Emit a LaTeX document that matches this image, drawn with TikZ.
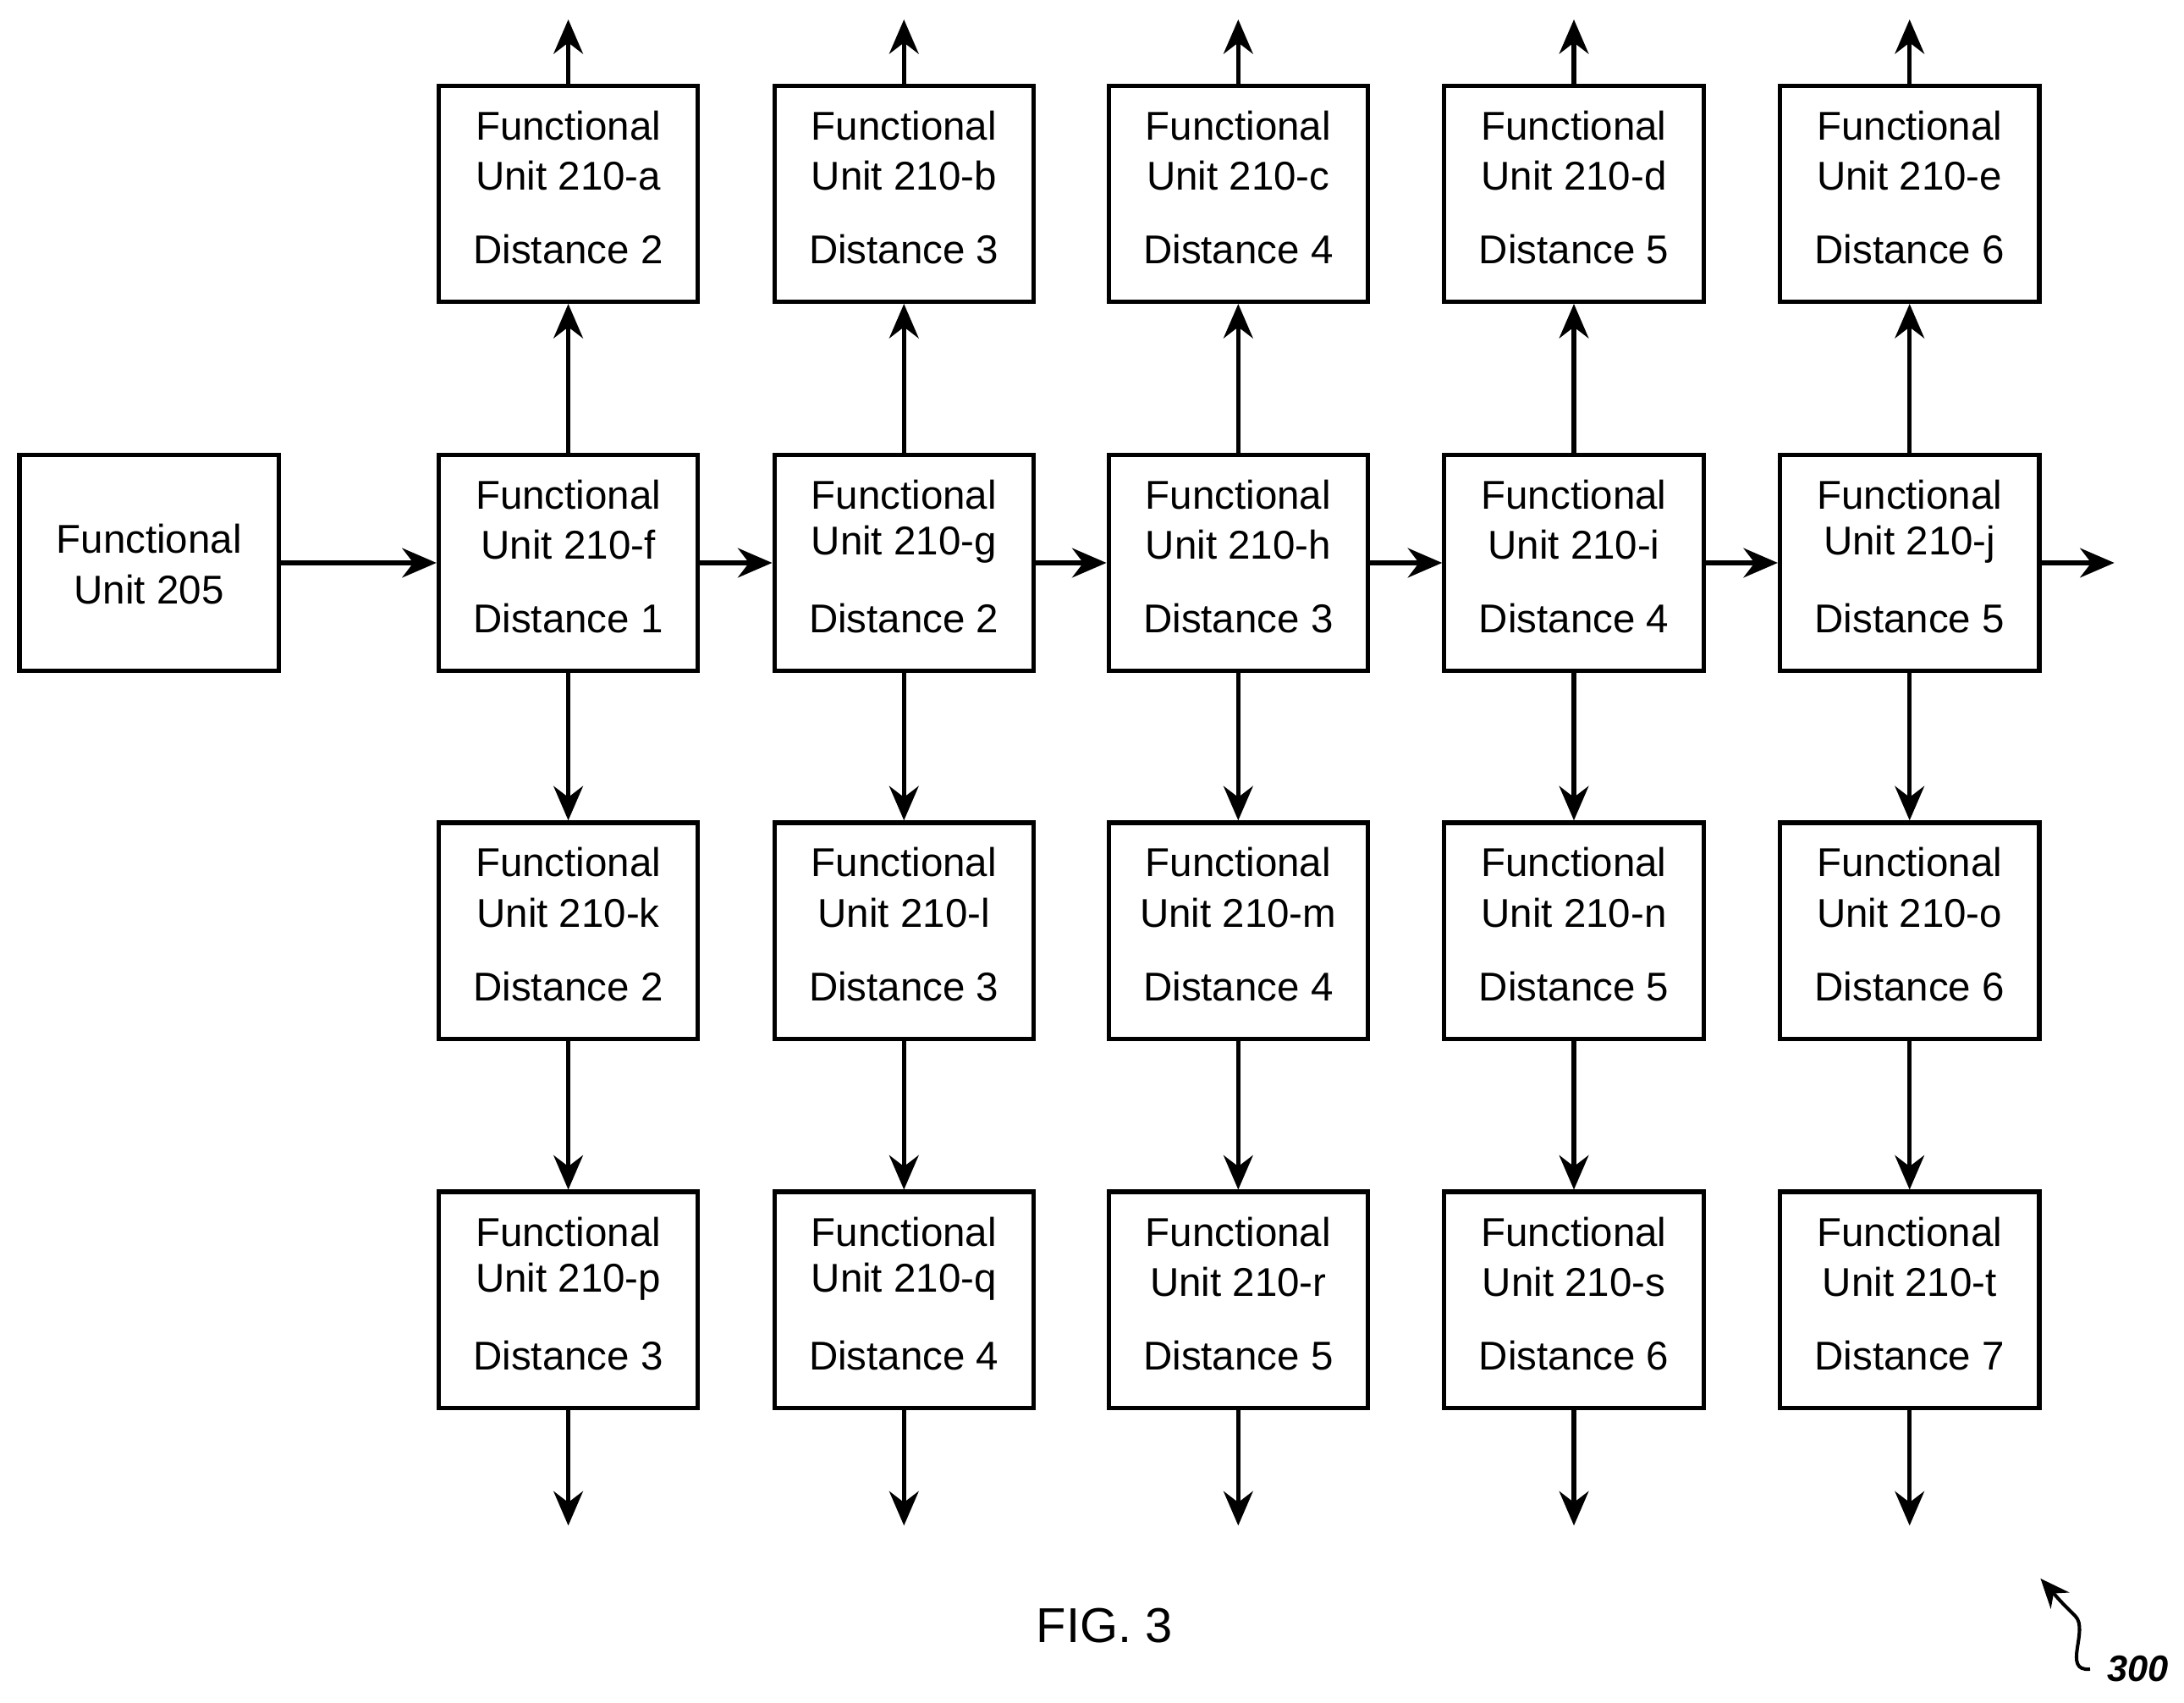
\documentclass[tikz,border=0pt]{standalone}
\usepackage{fontspec}
\setmainfont{Liberation Sans}
\usetikzlibrary{arrows.meta}
\begin{document}
\begin{tikzpicture}[x=0.01cm,y=-0.01cm,
  box/.style={draw,line width=0.9pt,minimum width=1.86cm,minimum height=1.55cm,inner sep=0pt},
  txt/.style={font=\fontsize{8.2}{9}\selectfont,inner sep=0pt},
  arr/.style={line width=0.9pt,-{Stealth[length=7pt,width=6pt]}}]
\useasboundingbox (0,0) rectangle (1568,1222);
\node[box] (u205) at (107,404) {};
\node[txt] at (107,387) {Functional};
\node[txt] at (107,423) {Unit 205};
\foreach \c/\x/\la/\lb/\lc/\ld/\da/\db/\dc/\dd in {
 1/408/a/f/k/p/2/1/2/3,
 2/649/b/g/l/q/3/2/3/4,
 3/889/c/h/m/r/4/3/4/5,
 4/1130/d/i/n/s/5/4/5/6,
 5/1371/e/j/o/t/6/5/6/7}{
 \foreach \r/\y/\l/\d in {1/139/\la/\da, 2/404/\lb/\db, 3/668/\lc/\dc, 4/933/\ld/\dd}{
  \node[box] (b\c\r) at (\x,\y) {};
  \node[txt] at (\x,\y-49) {Functional};
  \node[txt] at (\x,\y-13) {Unit 210-\l};
  \node[txt] at (\x,\y+40) {Distance \d};
 }
 \coordinate (t\c) at (\x,14);
 \coordinate (d\c) at (\x,1095);
 \draw[arr] (b\c1.north) -- (t\c);
 \draw[arr] (b\c2.north) -- (b\c1.south);
 \draw[arr] (b\c2.south) -- (b\c3.north);
 \draw[arr] (b\c3.south) -- (b\c4.north);
 \draw[arr] (b\c4.south) -- (d\c);
}
\draw[arr] (u205.east) -- (b12.west);
\draw[arr] (b12.east) -- (b22.west);
\draw[arr] (b22.east) -- (b32.west);
\draw[arr] (b32.east) -- (b42.west);
\draw[arr] (b42.east) -- (b52.west);
\coordinate (rt) at (1518,404);
\draw[arr] (b52.east) -- (rt);
\node[font=\fontsize{10}{12}\selectfont] (fig) at (793,1167) {FIG. 3};
\node[font=\fontsize{7.5}{9}\selectfont\itshape\bfseries] (n300) at (1535,1198) {300};
\coordinate (c300) at (1465,1133);
\draw[line width=0.7pt,-{Stealth[length=6pt,width=5pt]}] (n300.west) .. controls (1480,1200) and (1500,1170) .. (1490,1160) .. controls (1480,1150) .. (c300);
\end{tikzpicture}
\end{document}
